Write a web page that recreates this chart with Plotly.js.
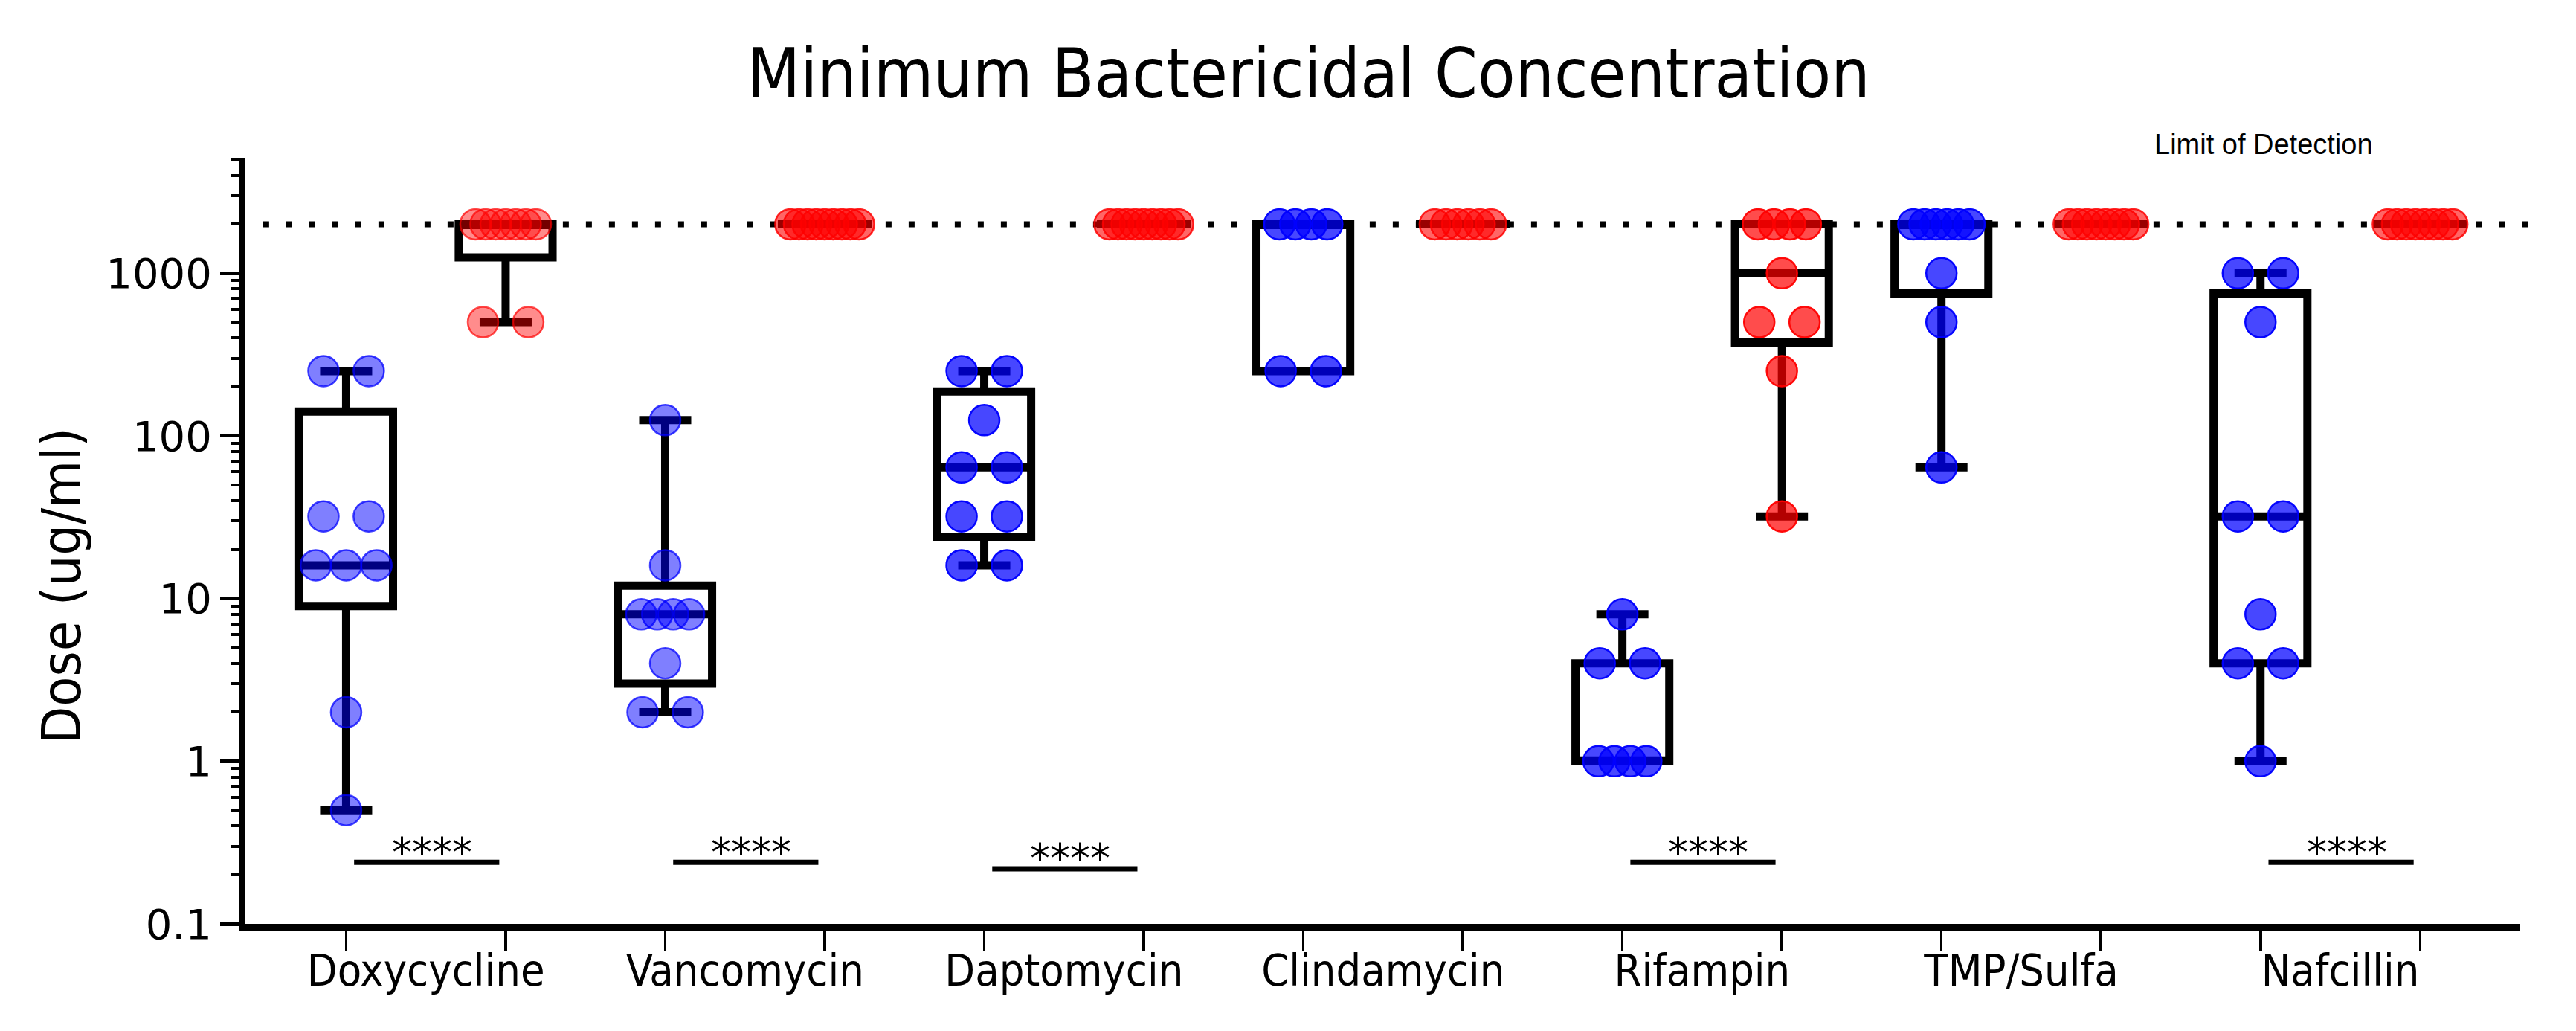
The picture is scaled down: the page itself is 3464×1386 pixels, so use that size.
<!DOCTYPE html>
<html>
<head>
<meta charset="utf-8">
<script src="https://cdn.plot.ly/plotly-3.0.1.min.js"></script>
<style>html,body{margin:0;padding:0;background:#fff;}</style>
</head>
<body>
<div id="chart" style="width:3464px;height:1386px;"></div>
<script>
// ---------------- DATA ----------------
const categories = ['Doxycycline', 'Vancomycin', 'Daptomycin', 'Clindamycin', 'Rifampin', 'TMP/Sulfa', 'Nafcillin'];

// blue series (left box of each pair), values in ug/ml
const blueDoxycycline = [250, 250, 32, 32, 16, 16, 16, 2, 0.5];
const blueVancomycin  = [125, 16, 8, 8, 8, 8, 4, 2, 2];
const blueDaptomycin  = [250, 250, 125, 64, 64, 32, 32, 16, 16];
const blueClindamycin = [2000, 2000, 2000, 2000, 250, 250];
const blueRifampin    = [8, 4, 4, 1, 1, 1, 1];
const blueTMPSulfa    = [2000, 2000, 2000, 2000, 2000, 2000, 1000, 500, 64];
const blueNafcillin   = [1000, 1000, 500, 32, 32, 8, 4, 4, 1];

// red series (right box of each pair)
const redDoxycycline = [2000, 2000, 2000, 2000, 2000, 2000, 2000, 500, 500];
const redVancomycin  = [2000, 2000, 2000, 2000, 2000, 2000, 2000, 2000, 2000];
const redDaptomycin  = [2000, 2000, 2000, 2000, 2000, 2000, 2000, 2000, 2000];
const redClindamycin = [2000, 2000, 2000, 2000, 2000, 2000];
const redRifampin    = [2000, 2000, 2000, 2000, 1000, 500, 500, 250, 32];
const redTMPSulfa    = [2000, 2000, 2000, 2000, 2000, 2000, 2000, 2000];
const redNafcillin   = [2000, 2000, 2000, 2000, 2000, 2000, 2000, 2000];

const limitOfDetection = 2000;
const yTickValues = [0.1, 1, 10, 100, 1000];
const yTickLabels = ['0.1', '1', '10', '100', '1000'];
const significantCategories = ['Doxycycline', 'Vancomycin', 'Daptomycin', 'Rifampin', 'Nafcillin'];
const significanceLabel = '****';

// ---------------- STYLE ----------------
const blueSeries = [blueDoxycycline, blueVancomycin, blueDaptomycin, blueClindamycin, blueRifampin, blueTMPSulfa, blueNafcillin];
const redSeries  = [redDoxycycline, redVancomycin, redDaptomycin, redClindamycin, redRifampin, redTMPSulfa, redNafcillin];
const blueAlpha = [0.5, 0.5, 0.72, 0.72, 0.72, 0.72, 0.72];
const redAlpha  = [0.45, 0.6, 0.6, 0.6, 0.7, 0.6, 0.6];
const sigBarLevel = [0.239, 0.239, 0.218, 0.239, 0.239]; // annotation bar heights (layout)

const COND = '"Liberation Sans Narrow", "DejaVu Sans Condensed", "Roboto Condensed", "Liberation Sans", sans-serif';
const WIDE = '"DejaVu Sans", sans-serif';
const X_RANGE = [-0.636, 13.628];

// GraphPad-style percentile ((n+1) basis)
function percentile(sorted, p) {
  const n = sorted.length;
  const pos = p * (n + 1);
  if (pos <= 1) return sorted[0];
  if (pos >= n) return sorted[n - 1];
  const lo = Math.floor(pos);
  const f = pos - lo;
  return sorted[lo - 1] + f * (sorted[lo] - sorted[lo - 1]);
}
function median(sorted) {
  const n = sorted.length;
  return n % 2 ? sorted[(n - 1) / 2] : (sorted[n / 2 - 1] + sorted[n / 2]) / 2;
}
// horizontal spread of a cluster of k equal values (data units)
function spread(k) {
  if (k <= 1) return 0;
  if (k === 2) return 0.284;
  if (k === 3) return 0.38;
  return 0.30 + 0.026 * (k - 4);
}
function swarm(values, center) {
  const counts = {};
  values.forEach(v => { counts[v] = (counts[v] || 0) + 1; });
  const seen = {};
  const xs = [], ys = [];
  values.forEach(v => {
    const k = counts[v];
    const i = seen[v] || 0; seen[v] = i + 1;
    const s = spread(k);
    xs.push(k === 1 ? center : center - s / 2 + i * s / (k - 1));
    ys.push(v);
  });
  return {xs, ys};
}

const traces = [];
const pointTraces = [];
function addGroup(values, pos, rgb, alpha, name) {
  const s = values.slice().sort((a, b) => a - b);
  traces.push({
    type: 'box', name: name, x: [pos],
    q1: [percentile(s, 0.25)], median: [median(s)], q3: [percentile(s, 0.75)],
    lowerfence: [s[0]], upperfence: [s[s.length - 1]],
    width: 0.588, whiskerwidth: 0.555,
    boxpoints: false,
    line: {color: '#000000', width: 11},
    fillcolor: 'rgba(255,255,255,0)',
    showlegend: false, hoverinfo: 'skip'
  });
  const sw = swarm(values, pos);
  pointTraces.push({
    type: 'scatter', mode: 'markers', x: sw.xs, y: sw.ys, name: name,
    marker: {size: 41, color: `rgba(${rgb},${alpha})`, line: {color: `rgba(${rgb},${Math.min(1, alpha + 0.25)})`, width: 2.5}},
    showlegend: false, cliponaxis: false
  });
}
categories.forEach((c, i) => {
  addGroup(blueSeries[i], 2 * i, '0,0,255', blueAlpha[i], c + ' (blue)');
  addGroup(redSeries[i], 2 * i + 1, '255,0,0', redAlpha[i], c + ' (red)');
});
const data = traces.concat(pointTraces);

// y minor ticks: 2..9 x decade
const yMinor = [];
for (let e = -1; e <= 3; e++) for (let m = 2; m <= 9; m++) yMinor.push(m * Math.pow(10, e));

const paperX = v => (v - X_RANGE[0]) / (X_RANGE[1] - X_RANGE[0]);
const shapes = [{
  type: 'line', xref: 'paper', yref: 'y', layer: 'below',
  x0: paperX(-0.52), x1: paperX(13.72), y0: limitOfDetection, y1: limitOfDetection,
  line: {color: '#000000', width: 8, dash: '8px,23px'}
}];
const annotations = [];
significantCategories.forEach((c, j) => {
  const g = categories.indexOf(c);
  const lv = sigBarLevel[j];
  shapes.push({type: 'line', xref: 'x', yref: 'y', x0: 2 * g + 0.05, x1: 2 * g + 0.96, y0: lv, y1: lv,
    line: {color: '#000000', width: 7}});
  annotations.push({xref: 'x', yref: 'y', x: 2 * g + 0.54, y: Math.log10(lv) + 0.064, text: significanceLabel,
    showarrow: false, xanchor: 'center', yanchor: 'middle', font: {family: WIDE, size: 54, color: '#000'}});
});
annotations.push({xref: 'x', yref: 'paper', x: 12.02, y: 1.017, text: 'Limit of Detection', showarrow: false,
  xanchor: 'center', yanchor: 'middle', font: {family: '"Liberation Sans", Arial, sans-serif', size: 38, color: '#000'}});
annotations.push({xref: 'paper', yref: 'paper', x: paperX(-0.636 - 247 / 214.5), y: 0.4415, text: 'Dose (ug/ml)', textangle: -90,
  showarrow: false, xanchor: 'center', yanchor: 'middle', font: {family: COND, size: 73, color: '#000'}});

const layout = {
  width: 3464, height: 1386,
  paper_bgcolor: '#ffffff', plot_bgcolor: '#ffffff',
  margin: {l: 329, r: 75, t: 211.5, b: 144},
  showlegend: false,
  title: {text: 'Minimum Bactericidal Concentration', font: {family: COND, size: 92, color: '#000'},
    x: 0.508, xref: 'container', xanchor: 'center', y: 0.952, yref: 'container', yanchor: 'top'},
  xaxis: {
    range: X_RANGE, showgrid: false, zeroline: false,
    showline: true, linecolor: '#000', linewidth: 10,
    tickmode: 'array', tickvals: categories.map((c, i) => 2 * i + 0.5), ticktext: categories,
    ticks: '', tickfont: {family: COND, size: 59, color: '#000'}, ticklabelstandoff: 2,
    minor: {tickmode: 'array', tickvals: Array.from({length: 14}, (_, i) => i), ticks: 'outside', ticklen: 26, tickwidth: 3.5, tickcolor: '#000', showgrid: false}
  },
  yaxis: {
    type: 'log', range: [-1, 3.71], showgrid: false, zeroline: false,
    showline: true, linecolor: '#000', linewidth: 8,
    tickmode: 'array', tickvals: yTickValues, ticktext: yTickLabels,
    ticks: 'outside', ticklen: 25, tickwidth: 5, tickcolor: '#000',
    tickfont: {family: WIDE, size: 56, color: '#000'},
    minor: {tickmode: 'array', tickvals: yMinor, ticks: 'outside', ticklen: 11, tickwidth: 4, tickcolor: '#000', showgrid: false}
  },
  shapes: shapes,
  annotations: annotations
};

Plotly.newPlot('chart', data, layout, {displayModeBar: false, staticPlot: true});
</script>
</body>
</html>
